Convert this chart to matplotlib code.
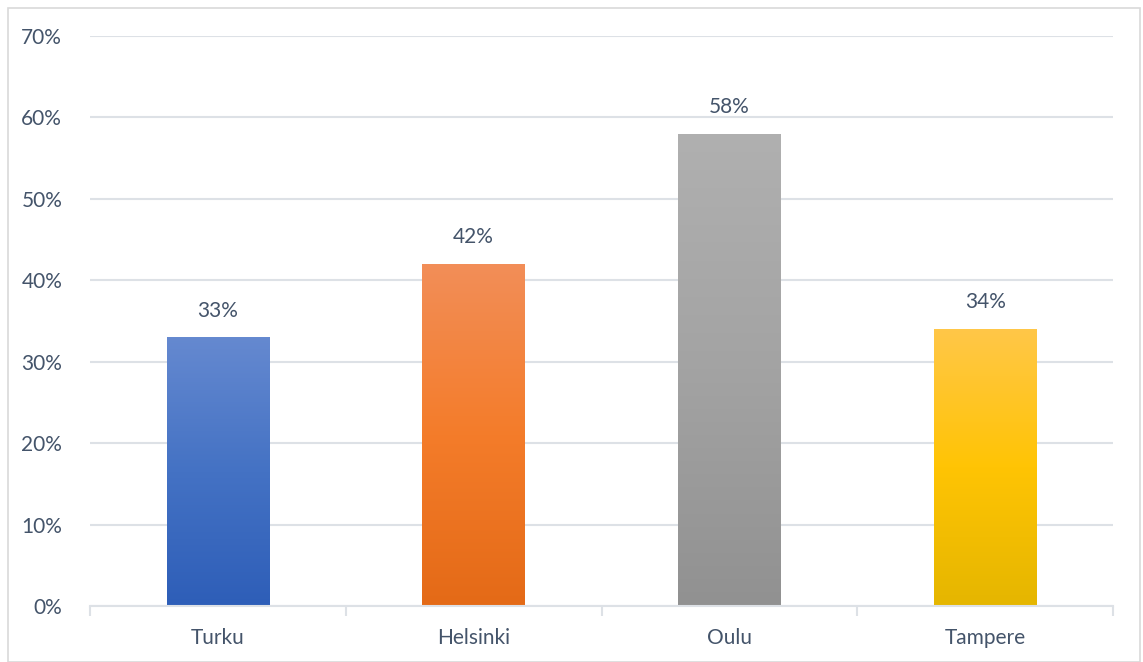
import numpy as np
import matplotlib.pyplot as plt
from matplotlib.colors import LinearSegmentedColormap
from matplotlib.patches import Rectangle

# data
kaupungit = ["Turku", "Helsinki", "Oulu", "Tampere"]
osuudet = [0.33, 0.42, 0.58, 0.34]
# gradient colours: top, middle, bottom
varit = [
    ["#6589D0", "#4472C4", "#2E5EB8"],
    ["#F28E58", "#F47C2A", "#E46A17"],
    ["#B0B0B0", "#A3A3A3", "#919191"],
    ["#FFC748", "#FFC404", "#E5B600"],
]

plt.rcParams["font.family"] = ["Lato", "DejaVu Sans"]
tekstivari = "#44546A"
viivavari = "#DDE1E6"

fig = plt.figure(figsize=(11.43, 6.62), dpi=100)
ax = fig.add_axes([90 / 1143, 1 - 606 / 662, (1113 - 90) / 1143, (606 - 36) / 662])

x = np.arange(len(kaupungit))
palkit = ax.bar(x, osuudet, width=0.40, color="none", zorder=2)

for palkki, v in zip(palkit, varit):
    cmap = LinearSegmentedColormap.from_list("g", v[::-1])
    grad = np.linspace(0, 1, 256).reshape(-1, 1)
    x0 = palkki.get_x()
    w = palkki.get_width()
    h = palkki.get_height()
    im = ax.imshow(grad, cmap=cmap, origin="lower", aspect="auto",
                   extent=[x0, x0 + w, 0, h], zorder=2)
    im.set_clip_path(palkki)

for xi, val in zip(x, osuudet):
    ax.annotate(f"{val:.0%}", (xi, val), xytext=(0, 12), textcoords="offset points",
                ha="center", va="bottom", fontsize=15, color=tekstivari)

ax.set_xlim(-0.5, len(kaupungit) - 0.5)
ax.set_ylim(0, 0.70)
ax.set_yticks(np.arange(0, 0.71, 0.1))
ax.set_yticklabels([f"{int(round(t * 100))}%" for t in np.arange(0, 0.71, 0.1)])
ax.set_xticks(x)
ax.set_xticklabels(kaupungit)
ax.set_xticks(np.arange(-0.5, len(kaupungit)), minor=True)

ax.tick_params(axis="y", length=0, pad=20, labelsize=15, labelcolor=tekstivari)
ax.tick_params(axis="x", which="major", length=0, pad=16, labelsize=15, labelcolor=tekstivari)
ax.tick_params(axis="x", which="minor", length=7, width=1.5, color=viivavari)

ax.grid(axis="y", color=viivavari, linewidth=1.5, zorder=0)
ax.set_axisbelow(True)
for s in ["top", "right", "left"]:
    ax.spines[s].set_visible(False)
ax.spines["bottom"].set_color(viivavari)
ax.spines["bottom"].set_linewidth(1.5)

# frame around the chart
fig.patches.append(Rectangle((8 / 1143, 0.5 / 662), 1132 / 1143, 654 / 662,
                             transform=fig.transFigure, fill=False,
                             edgecolor="#D9D9D9", linewidth=1.2))

fig.savefig("out.png", dpi=100)
